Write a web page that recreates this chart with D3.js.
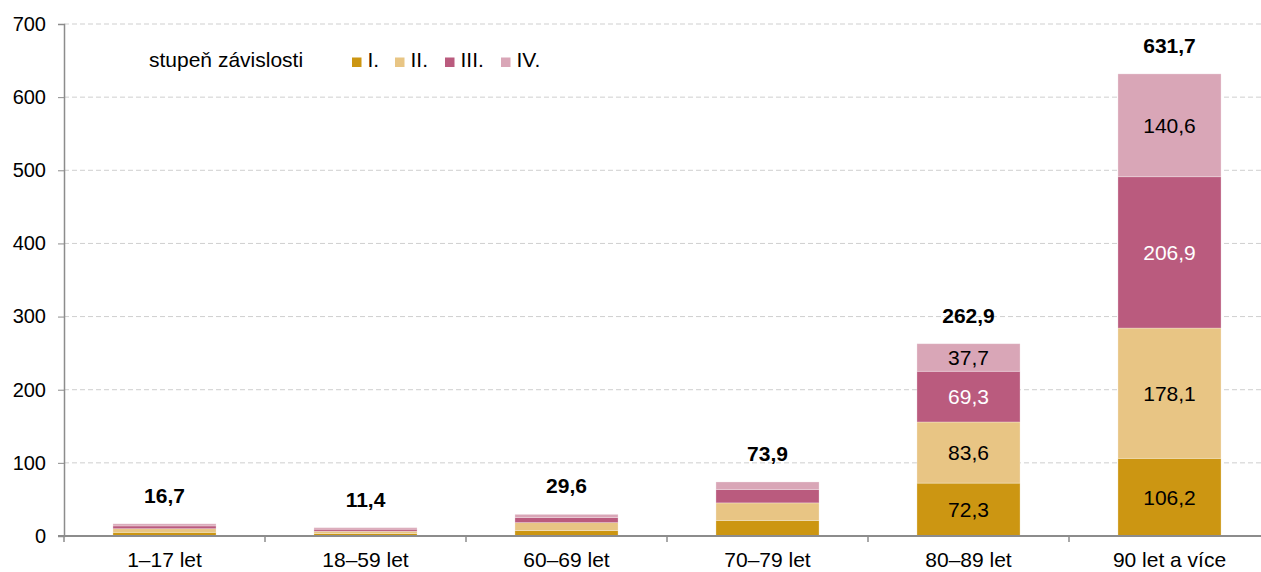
<!DOCTYPE html>
<html>
<head>
<meta charset="utf-8">
<script src="https://cdn.jsdelivr.net/npm/d3@7"></script>
<style>
  body { margin: 0; background: #fff; }
  svg text { font-family: "Liberation Sans", Arial, sans-serif; }
</style>
</head>
<body>
<div id="chart"></div>
<script>
// categories and series
var categories = ["1–17 let", "18–59 let", "60–69 let", "70–79 let", "80–89 let", "90 let a více"];
var seriesNames = ["I.", "II.", "III.", "IV."];
var stI   = [5.0, 3.5, 7.5, 21.3, 72.3, 106.2];
var stII  = [5.0, 3.0, 10.8, 24.0, 83.6, 178.1];
var stIII = [3.8, 2.8, 7.0, 18.4, 69.3, 206.9];
var stIV  = [2.9, 2.1, 4.3, 10.2, 37.7, 140.6];
var totals = ["16,7", "11,4", "29,6", "73,9", "262,9", "631,7"];
var showSegLabels = [false, false, false, false, true, true];
var yTicks = [0, 100, 200, 300, 400, 500, 600, 700];

var colors = ["#cc9612", "#e8c584", "#ba5b7e", "#d9a6b7"];
var labelColors = ["#000", "#000", "#fff", "#000"];

var width = 1261, height = 572;
var margin = {top: 24, right: 0, bottom: 36, left: 64};
var fs = 21;

var svg = d3.select("#chart").append("svg")
    .attr("width", width)
    .attr("height", height);

var x = d3.scaleBand()
    .domain(categories)
    .range([margin.left, margin.left + 6 * 201])
    .paddingInner(0.487)
    .paddingOuter(0.2435);

var y = d3.scaleLinear()
    .domain([0, 700])
    .range([height - margin.bottom, margin.top]);

// grid
svg.append("g").selectAll("line").data(yTicks.slice(1))
  .enter().append("line")
    .attr("x1", margin.left).attr("x2", width)
    .attr("y1", function(d) { return y(d); })
    .attr("y2", function(d) { return y(d); })
    .attr("stroke", "#cfcfcf")
    .attr("stroke-dasharray", "5,3");

// stacked data
var rows = categories.map(function(c, i) {
  return {cat: c, s0: stI[i], s1: stII[i], s2: stIII[i], s3: stIV[i], idx: i};
});
var stack = d3.stack().keys(["s0", "s1", "s2", "s3"])(rows);

var groups = svg.append("g").selectAll("g").data(stack)
  .enter().append("g")
    .attr("fill", function(d, i) { return colors[i]; });

groups.selectAll("rect").data(function(d) { return d; })
  .enter().append("rect")
    .attr("x", function(d) { return x(d.data.cat); })
    .attr("width", x.bandwidth())
    .attr("y", function(d) { return y(d[1]); })
    .attr("height", function(d) { return y(d[0]) - y(d[1]); })
    .attr("stroke", "#fff")
    .attr("stroke-opacity", 0.35)
    .attr("stroke-width", 0.8);

// segment labels
stack.forEach(function(layer, li) {
  svg.append("g").selectAll("text")
    .data(layer.filter(function(d) { return showSegLabels[d.data.idx]; }))
    .enter().append("text")
      .attr("x", function(d) { return x(d.data.cat) + x.bandwidth() / 2; })
      .attr("y", function(d) { return (y(d[0]) + y(d[1])) / 2; })
      .attr("dy", "0.36em")
      .attr("text-anchor", "middle")
      .attr("font-size", fs)
      .attr("fill", labelColors[li])
      .text(function(d) { return d3.format(".1f")(d.data["s" + li]).replace(".", ","); });
});

// totals
svg.append("g").selectAll("text").data(rows)
  .enter().append("text")
    .attr("x", function(d) { return x(d.cat) + x.bandwidth() / 2; })
    .attr("y", function(d) { return y(d.s0 + d.s1 + d.s2 + d.s3) - 21; })
    .attr("text-anchor", "middle")
    .attr("font-size", fs)
    .attr("font-weight", "bold")
    .text(function(d, i) { return totals[i]; });

// y axis
var yAxis = d3.axisLeft(y).tickValues(yTicks).tickSize(6).tickPadding(12)
    .tickFormat(function(d) { return d; });
var yg = svg.append("g")
    .attr("transform", "translate(" + margin.left + ",0)")
    .call(yAxis);
yg.select(".domain").attr("stroke", "#8c8c8c").attr("stroke-width", 1.5);
yg.selectAll(".tick line").attr("stroke", "#8c8c8c");
yg.selectAll("text").attr("font-size", 20).attr("fill", "#000")
    .style("font-family", "Liberation Sans, Arial, sans-serif");

// x axis
var xEdges = d3.scaleLinear().domain([0, 6]).range([margin.left, margin.left + 6 * 201]);
var xg = svg.append("g")
    .attr("transform", "translate(0," + y(0) + ")");
xg.append("line")
    .attr("x1", margin.left - 6).attr("x2", width)
    .attr("stroke", "#8c8c8c").attr("stroke-width", 2);
xg.selectAll(".xt").data(d3.range(0, 6))
  .enter().append("line")
    .attr("x1", function(d) { return xEdges(d); })
    .attr("x2", function(d) { return xEdges(d); })
    .attr("y1", 0).attr("y2", 6)
    .attr("stroke", "#8c8c8c").attr("stroke-width", 1.5);
xg.selectAll("text").data(categories)
  .enter().append("text")
    .attr("x", function(d) { return x(d) + x.bandwidth() / 2; })
    .attr("y", 31)
    .attr("text-anchor", "middle")
    .attr("font-size", fs)
    .text(function(d) { return d; });

// legend
var legend = svg.append("g");
legend.append("text")
    .attr("x", 149).attr("y", 67)
    .attr("font-size", fs)
    .text("stupeň závislosti");
var legX = [352, 395, 445, 501];
seriesNames.forEach(function(n, i) {
  legend.append("rect")
    .attr("x", legX[i]).attr("y", 57.5)
    .attr("width", 9.5).attr("height", 9.5)
    .attr("fill", colors[i]);
  legend.append("text")
    .attr("x", legX[i] + 15.5).attr("y", 67)
    .attr("font-size", fs)
    .text(n);
});
</script>
</body>
</html>
